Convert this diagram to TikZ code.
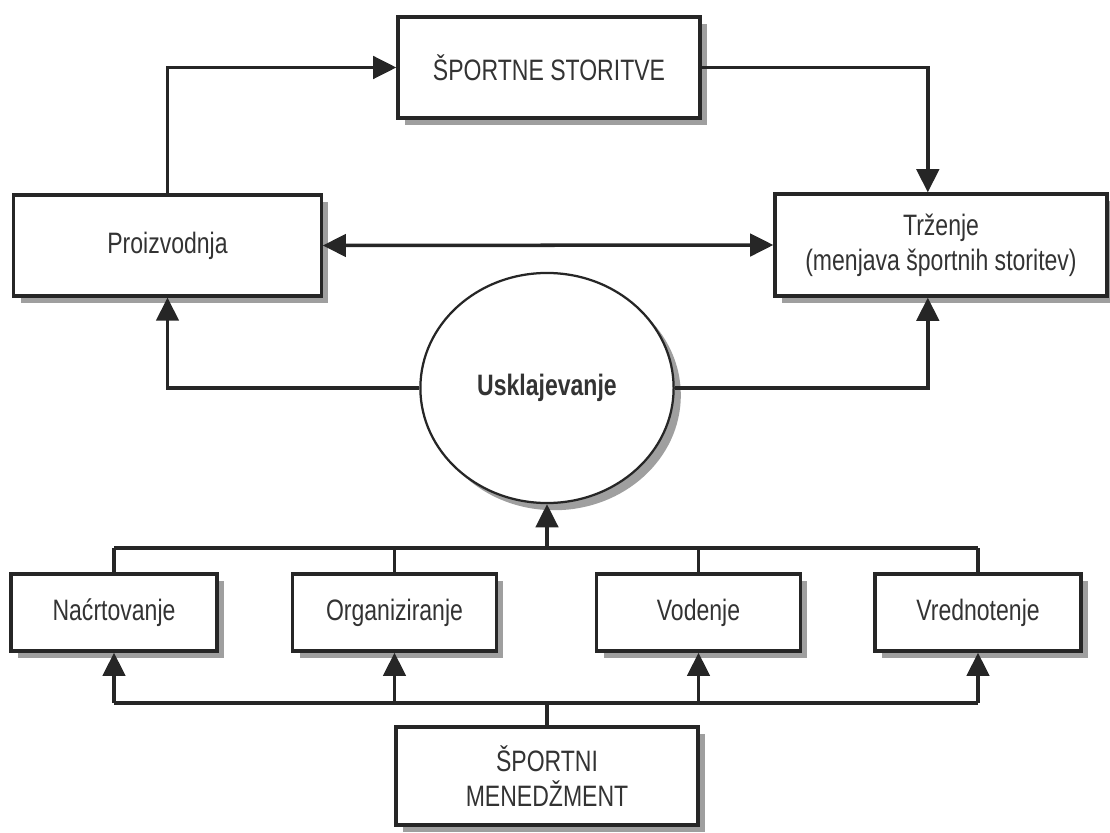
\documentclass[tikz,border=0pt]{standalone}
\usepackage{fontspec}
\setmainfont{Liberation Sans}[FakeStretch=0.78]
\usetikzlibrary{arrows.meta,shapes.geometric,shadows}

\begin{document}
\begin{tikzpicture}[x=0.025cm, y=-0.025cm,
              line width=2.5pt, draw=black!85,
              arr/.style = {-{Triangle[length=0.58cm,width=0.56cm]}},
              every node/.style = {align=center, text=black!80,
                font=\fontsize{21}{25}\selectfont},
              box/.style = {draw, fill=white, line width=2.3pt,
                drop shadow={shadow xshift=0.18cm, shadow yshift=-0.18cm,
                  fill=gray!75, opacity=1}}]
  \useasboundingbox (0,0) rectangle (1110,833);
  % upper part
  \node[box, minimum width=7.55cm, minimum height=2.52cm] (sto) at (549,67.5) {ŠPORTNE STORITVE};
  \node[box, minimum width=7.68cm, minimum height=2.52cm] (pro) at (167.5,245.5) {Proizvodnja};
  \node[box, minimum width=8.3cm, minimum height=2.55cm] (trz) at (941,245) {Tr\v{z}enje\\(menjava športnih storitev)};
  \node[box, ellipse, line width=1.6pt, minimum width=6.33cm, minimum height=5.75cm] (usk) at (547,388) {\bfseries Usklajevanje};
  % lower part
  \node[box, minimum width=5.15cm, minimum height=1.93cm] (nac) at (114,612.5) {Na\'{c}rtovanje};
  \node[box, minimum width=5.08cm, minimum height=1.93cm] (org) at (394.5,612.5) {Organiziranje};
  \node[box, minimum width=5.08cm, minimum height=1.93cm] (vod) at (698.5,612.5) {Vodenje};
  \node[box, minimum width=5.15cm, minimum height=1.93cm] (vre) at (978,612.5) {Vrednotenje};
  \node[box, minimum width=7.55cm, minimum height=2.45cm] (men) at (547,776) {ŠPORTNI\\MENED\v{Z}MENT};
  \coordinate (tb) at (547,548);
  \coordinate (bb) at (547,703);

  \draw[arr] (pro.north) |- (sto.west);
  \draw[arr] (sto.east) -| ([xshift=-0.33cm]trz.north);
  \draw[{Triangle[length=0.58cm,width=0.56cm]}-{Triangle[length=0.58cm,width=0.56cm]}] (pro.east) -- (trz.west);
  \draw[arr] (usk.west) -| (pro.south);
  \draw[arr] (usk.east) -| ([xshift=-0.33cm]trz.south);
  \draw[arr] (tb) -- (usk.south);
  \draw (nac.north |- tb) -- (vre.north |- tb);
  \draw (nac.south |- bb) -- (vre.south |- bb);
  \draw (men.north) -- (bb);
  \foreach \n in {nac,org,vod,vre} {
    \draw (\n.north) -- (\n.north |- tb);
    \draw[arr] (\n.south |- bb) -- (\n.south);
  }
\end{tikzpicture}
\end{document}
